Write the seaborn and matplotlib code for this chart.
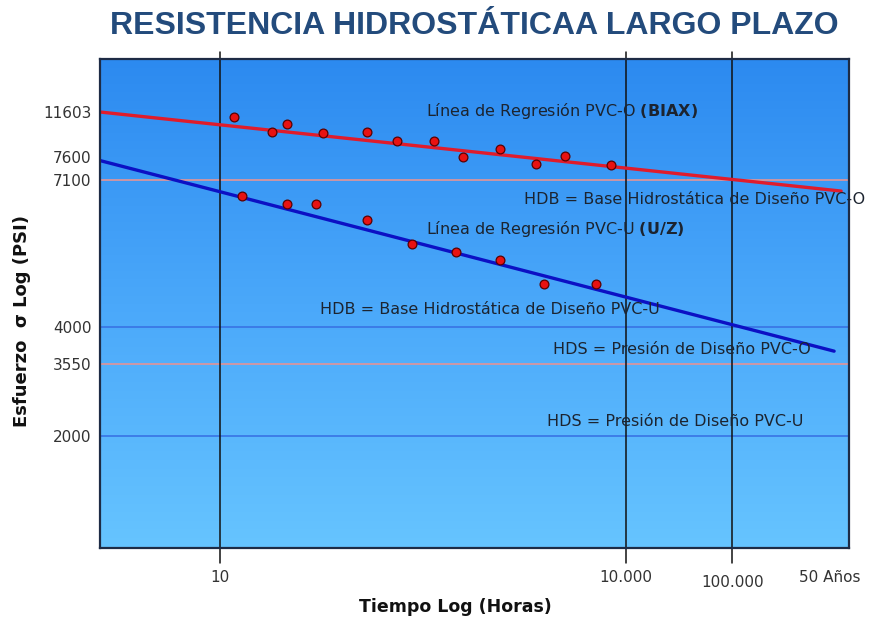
import numpy as np
import pandas as pd
import matplotlib
matplotlib.use("Agg")
import matplotlib.pyplot as plt
import matplotlib.transforms as mtransforms
from matplotlib import font_manager
import seaborn as sns

# values (hours, psi)
pvco_hours = [12.8, 24.5, 31.2, 58, 123, 202, 382, 629, 1164, 2160, 3551, 7660]
pvco_psi   = [11100, 9590, 10340, 9550, 9590, 8860, 8860, 7620, 8190, 7440, 7670, 7430]
pvcu_hours = [14.5, 31.2, 51.3, 123, 263, 555, 1172, 2457, 5978]
pvcu_psi   = [6680, 6470, 6470, 6070, 5530, 5360, 5200, 4740, 4740]

reg_o_hours = [1.31, 5.24e5]
reg_o_psi   = [11603, 6800]
reg_u_hours = [1.31, 4.71e5]
reg_u_psi   = [7520, 3700]

hdb_o, hds_o = 7100, 3550
hdb_u, hds_u = 4000, 2000

y_ticks  = [11603, 7600, 7100, 4000, 3550, 2000]
x_ticks  = [10, 10000, 100000, 438000]
x_labels = ["10", "10.000", "100.000", "50 Años"]
grid_hours = [10, 10000, 100000]

# the axes of the original are schematic: piecewise log scales
X_LOG = [0, 1, 4, 5, 5.64, 6.5]
X_POS = [84.3, 220, 627, 733, 830, 960]
Y_LOG = [2.5, 3.301, 3.5502, 3.6021, 3.8513, 3.8808, 4.0646, 4.5]
Y_POS = [-667.4, -436, -364, -327, -180, -157, -112, -5.4]

def fx(v):
    return np.interp(np.log10(np.clip(np.asarray(v, float), 1e-9, None)), X_LOG, X_POS)

def fx_inv(u):
    return 10 ** np.interp(np.asarray(u, float), X_POS, X_LOG)

def fy(v):
    return np.interp(np.log10(np.clip(np.asarray(v, float), 1e-9, None)), Y_LOG, Y_POS)

def fy_inv(u):
    return 10 ** np.interp(np.asarray(u, float), Y_POS, Y_LOG)

sns.set_style("white")
plt.rcParams["font.family"] = ["DejaVu Sans"]
plt.rcParams["mathtext.fontset"] = "dejavusans"

names = {f.name for f in font_manager.fontManager.ttflist}

fig = plt.figure(figsize=(8.69, 6.2), dpi=100)
ax = fig.add_axes([100 / 869, 72 / 620, 749 / 869, 489 / 620])
ax.set_xscale("function", functions=(fx, fx_inv))
ax.set_yscale("function", functions=(fy, fy_inv))

# background gradient
grad = np.linspace(0, 1, 256).reshape(-1, 1)
cmap = matplotlib.colors.LinearSegmentedColormap.from_list("bg", ["#2c8af0", "#4aa8fa", "#66c4ff"])
ax.imshow(grad, cmap=cmap, extent=[0, 1, 0, 1], transform=ax.transAxes,
          aspect="auto", origin="upper", zorder=0)

# reference lines
for v in (hdb_o, hds_o):
    ax.axhline(v, color="#d8959e", lw=1.3, zorder=1)
for v in (hdb_u, hds_u):
    ax.axhline(v, color="#3a78e6", lw=1.3, zorder=1)
trans = ax.get_xaxis_transform()
for h in grid_hours:
    ax.plot([h, h], [-0.031, 1.014], transform=trans, color="#111111",
            lw=1.1, clip_on=False, zorder=2)

# regression lines
reg = pd.concat([
    pd.DataFrame({"h": reg_o_hours, "psi": reg_o_psi, "s": "O"}),
    pd.DataFrame({"h": reg_u_hours, "psi": reg_u_psi, "s": "U"}),
])
sns.lineplot(data=reg, x="h", y="psi", hue="s", palette={"O": "#e01c2c", "U": "#0c10c4"},
             estimator=None, sort=False, lw=2.4, legend=False, ax=ax, zorder=3)

pts = pd.concat([
    pd.DataFrame({"h": pvco_hours, "psi": pvco_psi}),
    pd.DataFrame({"h": pvcu_hours, "psi": pvcu_psi}),
])
sns.scatterplot(data=pts, x="h", y="psi", color="#e81212", edgecolor="#5a0000",
                linewidth=0.9, s=40, ax=ax, zorder=4)

ax.set_xlim(1.31, 5.91e5)
ax.set_ylim(819, 19100)

ax.set_xticks(x_ticks)
ax.set_xticklabels(x_labels)
ax.set_yticks(y_ticks)
ax.set_yticklabels([str(v) for v in y_ticks])
ax.minorticks_off()
ax.tick_params(axis="x", length=0, pad=16, labelsize=11, labelcolor="#333333")
ax.tick_params(axis="y", length=0, pad=6, labelsize=11, labelcolor="#333333")
lab = ax.get_xticklabels()[2]
lab.set_transform(lab.get_transform() + mtransforms.ScaledTranslation(0, -5 / 100, fig.dpi_scale_trans))

for sp in ax.spines.values():
    sp.set_color("#1d2b45")
    sp.set_linewidth(1.6)
    sp.set_zorder(5)

ax.set_xlabel("")
ax.set_ylabel("")
fig.text(455 / 869, 1 - 607 / 620, "Tiempo Log (Horas)", ha="center", va="center",
         fontsize=12.5, fontweight="bold", color="#111111")
fig.text(22 / 869, 1 - 321 / 620, "Esfuerzo  σ Log (PSI)", ha="center", va="center",
         rotation=90, fontsize=13, fontweight="bold", color="#111111")

if "Liberation Sans Narrow" in names:
    tfam, tsize = "Liberation Sans Narrow", 27
else:
    tfam, tsize = "Liberation Sans", 23
fig.text(474 / 869, 1 - 26 / 620, "RESISTENCIA HIDROSTÁTICAA LARGO PLAZO",
         ha="center", va="center", fontsize=tsize, fontweight="bold",
         color="#234b7c", family=[tfam, "DejaVu Sans"])

# annotations (axes fraction positions)
def note(px, py, s):
    ax.text((px - 100) / 749, (548 - py) / 489, s, transform=ax.transAxes,
            ha="left", va="center", fontsize=11.5, color="#1c2430", zorder=6, clip_on=False)

note(426, 111, r"Línea de Regresión PVC-O $\mathbf{(BIAX)}$")
note(524, 199, "HDB = Base Hidrostática de Diseño PVC-O")
note(426, 229, r"Línea de Regresión PVC-U $\mathbf{(U/Z)}$")
note(320, 309, "HDB = Base Hidrostática de Diseño PVC-U")
note(553, 350, "HDS = Presión de Diseño PVC-O")
note(547, 421, "HDS = Presión de Diseño PVC-U")

fig.savefig("out.png", dpi=100)
